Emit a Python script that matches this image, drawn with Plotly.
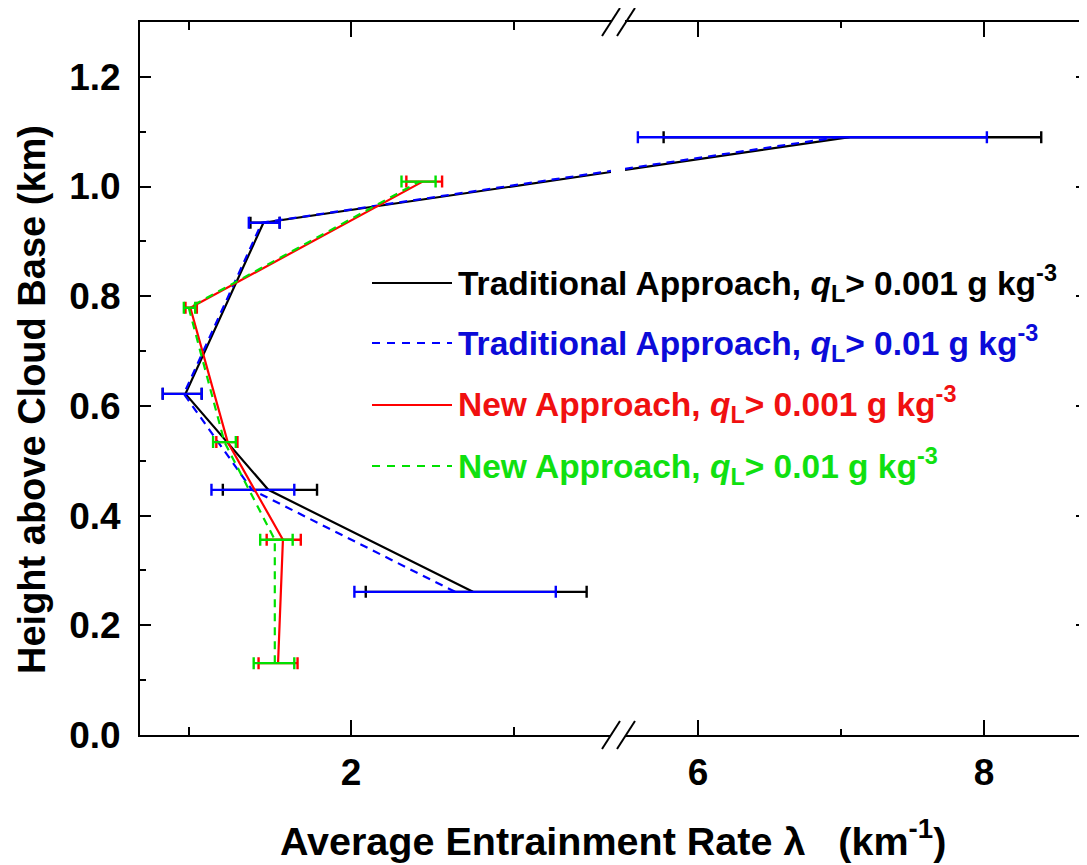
import plotly.graph_objects as go

# ---------------- data ----------------
heights_trad = [0.261, 0.447, 0.622, 0.934, 1.09]
trad_001 = [2.75, 1.49, 0.98, 1.46, 7.06]
trad_001_plus = [0.70, 0.30, 0.10, 0.10, 1.34]
trad_001_minus = [0.66, 0.28, 0.14, 0.08, 1.30]
trad_01 = [2.64, 1.39, 0.97, 1.45, 6.98]
trad_01_plus = [0.62, 0.26, 0.11, 0.11, 1.04]
trad_01_minus = [0.62, 0.25, 0.13, 0.08, 1.40]

heights_new = [0.131, 0.356, 0.534, 0.779, 1.009]
new_001 = [1.55, 1.58, 1.24, 1.01, 2.44]
new_001_plus = [0.12, 0.11, 0.06, 0.04, 0.12]
new_001_minus = [0.12, 0.10, 0.07, 0.03, 0.10]
new_01 = [1.53, 1.53, 1.22, 1.00, 2.42]
new_01_plus = [0.12, 0.11, 0.07, 0.04, 0.10]
new_01_minus = [0.13, 0.09, 0.07, 0.03, 0.11]

legend_labels = [
    "Traditional Approach, <i>q</i><sub>L</sub>> 0.001 g kg<sup>-3</sup>",
    "Traditional Approach, <i>q</i><sub>L</sub>> 0.01 g kg<sup>-3</sup>",
    "New Approach, <i>q</i><sub>L</sub>> 0.001 g kg<sup>-3</sup>",
    "New Approach, <i>q</i><sub>L</sub>> 0.01 g kg<sup>-3</sup>",
]
y_tick_vals = [0.0, 0.2, 0.4, 0.6, 0.8, 1.0, 1.2]
x_title = "Average Entrainment Rate λ   (km<sup>-1</sup>)"
y_title = "Height above Cloud Base (km)"

# ---------------- layout geometry (page pixels) ----------------
OFF = 8                       # page body margin of the html page
PAGE_W, PAGE_H = 1087, 865
W, H = PAGE_W - OFF, PAGE_H - OFF
PL, PR, PT, PB = 140, 1087, 22, 735   # plot area edges in page pixels
ML, MT = PL - OFF, PT - OFF
MR, MB = W - (PR - OFF), H - (PB - OFF)
PW, PH = PR - PL, PB - PT
L_RANGE = [0.70, 3.60]
R_RANGE = [5.49, 8.72]
Y_RANGE = [0.0, 1.3]
BRK_L_PX, BRK_R_PX = 611, 625
L_DOM = [0.0, (BRK_L_PX - PL) / PW]
R_DOM = [(BRK_R_PX - PL) / PW, 1.0]

FONT = "Liberation Sans, Arial, sans-serif"
BLACK, BLUE, RED, GREEN = "#000000", "#0000ff", "#ff0000", "#00e000"
TXT = {"black": "#000000", "blue": "#0b0bd8", "red": "#f01010", "green": "#10e010"}


def to_paper(x):
    if x <= L_RANGE[1]:
        return L_DOM[0] + (x - L_RANGE[0]) / (L_RANGE[1] - L_RANGE[0]) * (L_DOM[1] - L_DOM[0])
    return R_DOM[0] + (x - R_RANGE[0]) / (R_RANGE[1] - R_RANGE[0]) * (R_DOM[1] - R_DOM[0])


def split(xs, ys):
    """split a series into left/right segments of the broken axis"""
    lx, ly, rx, ry = [], [], [], []
    for i, (x, y) in enumerate(zip(xs, ys)):
        if x <= L_RANGE[1]:
            lx.append(x); ly.append(y)
        else:
            rx.append(x); ry.append(y)
        if i + 1 < len(xs):
            x2, y2 = xs[i + 1], ys[i + 1]
            a, b = x <= L_RANGE[1], x2 <= L_RANGE[1]
            if a != b:
                p1, p2 = to_paper(x), to_paper(x2)
                yl = y + (y2 - y) * (L_DOM[1] - p1) / (p2 - p1)
                yr = y + (y2 - y) * (R_DOM[0] - p1) / (p2 - p1)
                if a:
                    lx.append(L_RANGE[1]); ly.append(yl)
                    lx.append(None); ly.append(None)
                    rx.append(R_RANGE[0]); ry.append(yr)
                else:
                    rx.append(R_RANGE[0]); ry.append(yr)
                    rx.append(None); ry.append(None)
                    lx.append(L_RANGE[1]); ly.append(yl)
    return lx, ly, rx, ry


fig = go.Figure()

series = [
    (trad_001, heights_trad, trad_001_plus, trad_001_minus, BLACK, "solid"),
    (trad_01, heights_trad, trad_01_plus, trad_01_minus, BLUE, "8px,6px"),
    (new_001, heights_new, new_001_plus, new_001_minus, RED, "solid"),
    (new_01, heights_new, new_01_plus, new_01_minus, GREEN, "8px,6px"),
]

for xs, ys, ep, em, col, dash in series:
    lx, ly, rx, ry = split(xs, ys)
    if lx:
        fig.add_trace(go.Scatter(x=lx, y=ly, mode="lines", line=dict(color=col, width=2.2, dash=dash),
                                 xaxis="x", yaxis="y", showlegend=False, hoverinfo="skip"))
    if rx:
        fig.add_trace(go.Scatter(x=rx, y=ry, mode="lines", line=dict(color=col, width=2.2, dash=dash),
                                 xaxis="x2", yaxis="y2", showlegend=False, hoverinfo="skip"))
    for axn, cond in (("", lambda v: v <= L_RANGE[1]), ("2", lambda v: v > L_RANGE[1])):
        idx = [i for i, v in enumerate(xs) if cond(v)]
        if not idx:
            continue
        fig.add_trace(go.Scatter(
            x=[xs[i] for i in idx], y=[ys[i] for i in idx], mode="markers",
            marker=dict(size=1, color="rgba(0,0,0,0)"),
            error_x=dict(type="data", symmetric=False, array=[ep[i] for i in idx],
                         arrayminus=[em[i] for i in idx], color=col, thickness=2.4, width=6),
            xaxis="x" + axn, yaxis="y" + axn, showlegend=False, hoverinfo="skip"))

axis_font = dict(family=FONT, size=37, color="black", weight="bold")

fig.update_layout(
    width=W, height=H,
    margin=dict(l=ML, r=MR, t=MT, b=MB, pad=0),
    paper_bgcolor="white", plot_bgcolor="white",
    showlegend=False,
    xaxis=dict(domain=L_DOM, range=L_RANGE, anchor="y", showgrid=False, zeroline=False,
               showline=True, linecolor="black", linewidth=2, mirror="ticks",
               ticks="inside", ticklen=15, tickwidth=2, tickcolor="black",
               tick0=0, dtick=2, tickfont=axis_font, ticklabelstandoff=4,
               minor=dict(ticks="inside", dtick=1, tick0=0, ticklen=8, tickwidth=2, tickcolor="black")),
    xaxis2=dict(domain=R_DOM, range=R_RANGE, anchor="y2", showgrid=False, zeroline=False,
                showline=True, linecolor="black", linewidth=2, mirror="ticks",
                ticks="inside", ticklen=15, tickwidth=2, tickcolor="black",
                tick0=0, dtick=2, tickfont=axis_font, ticklabelstandoff=4,
                minor=dict(ticks="inside", dtick=1, tick0=0, ticklen=6, tickwidth=2, tickcolor="black")),
    yaxis=dict(domain=[0, 1], range=Y_RANGE, anchor="x", showgrid=False, zeroline=False,
               showline=True, linecolor="black", linewidth=2, mirror=False,
               ticks="inside", ticklen=11, tickwidth=2, tickcolor="black",
               tickvals=y_tick_vals, tickformat=".1f", tickfont=axis_font, ticklabelstandoff=10,
               minor=dict(ticks="inside", dtick=0.1, tick0=0, ticklen=6, tickwidth=2, tickcolor="black")),
    yaxis2=dict(domain=[0, 1], range=Y_RANGE, anchor="x2", side="right", showgrid=False, zeroline=False,
                showline=False, ticks="inside", ticklen=11, tickwidth=2, tickcolor="black",
                tickvals=y_tick_vals, showticklabels=False,
                minor=dict(ticks="inside", dtick=0.1, tick0=0, ticklen=6, tickwidth=2, tickcolor="black")),
)


def px_x(px):
    return (px - PL) / PW


def px_y(py):
    return (PB - py) / PH


# axis-break slashes (top and bottom)
for base in (PT, PB):
    for x0 in (602, 617):
        fig.add_shape(type="line", xref="paper", yref="paper",
                      x0=px_x(x0), y0=px_y(base + 14), x1=px_x(x0 + 18), y1=px_y(base - 14),
                      line=dict(color="black", width=2))

# custom legend
leg_rows = [283, 343, 405, 466]
leg_cols = [BLACK, BLUE, RED, GREEN]
leg_txt = [TXT["black"], TXT["blue"], TXT["red"], TXT["green"]]
leg_dash = ["solid", "8px,7px", "solid", "8px,7px"]
for row, col, tc, dsh, lab in zip(leg_rows, leg_cols, leg_txt, leg_dash, legend_labels):
    fig.add_shape(type="line", xref="paper", yref="paper",
                  x0=px_x(372), y0=px_y(row), x1=px_x(452), y1=px_y(row),
                  line=dict(color=col, width=2, dash=dsh))
    fig.add_annotation(xref="paper", yref="paper", x=px_x(456), y=px_y(row), xanchor="left",
                       yanchor="middle", text=lab, showarrow=False,
                       font=dict(family=FONT, size=33.5, color=tc, weight="bold"))

# axis titles
fig.add_annotation(xref="paper", yref="paper", x=px_x(613), y=px_y(838), xanchor="center",
                   yanchor="middle", text=x_title, showarrow=False,
                   font=dict(family=FONT, size=39.5, color="black", weight="bold"))
fig.add_annotation(xref="paper", yref="paper", x=px_x(32), y=px_y(400), xanchor="center",
                   yanchor="middle", text=y_title, showarrow=False, textangle=-90,
                   font=dict(family=FONT, size=38, color="black", weight="bold"))

fig.write_html("out.html")
